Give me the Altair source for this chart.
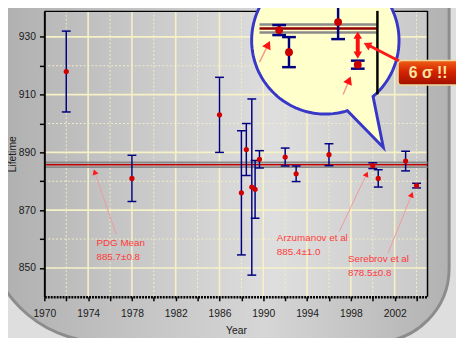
import altair as alt
import numpy as np
import pandas as pd

# ---------------- data ----------------
years = [1972, 1978, 1986, 1988.0, 1988.45, 1988.95, 1989.25, 1989.65, 1992, 1993, 1996, 2000, 2000.5, 2003, 2004]
lifetimes = [918.0, 881.0, 903.0, 876.0, 891.0, 878.0, 877.2, 887.6, 888.4, 882.6, 889.2, 885.4, 881.0, 887.0, 878.5]
errors = [14.0, 8.0, 13.0, 21.5, 9.0, 30.5, 10.0, 3.0, 3.1, 2.7, 3.8, 1.0, 3.0, 3.4, 0.8]

pdg_mean = 885.7
pdg_err = 0.8

x_ticks = list(range(1970, 2005, 2))
y_ticks = list(range(850, 931, 10))
major_grid_years = list(range(1974, 2003, 4))
minor_grid_years = list(range(1972, 2005, 4))
major_grid_vals = [850, 870, 890, 910, 930]
minor_grid_vals = [860, 880, 900, 920]

ann_names = ["PDG Mean", "Arzumanov et al", "Serebrov et al"]
ann_values = ["885.7±0.8", "885.4±1.0", "878.5±0.8"]
ann_text_x = [1974.76, 1991.24, 1997.73]
ann_text_y = [858.7, 860.4, 853.1]
ann_from_x = [1976.55, 1996.95, 2001.41]
ann_from_y = [861.75, 862.7, 855.2]
ann_to_x = [1974.6, 1999.44, 2003.56]
ann_to_y = [883.2, 882.5, 875.4]

badge_text = "6 σ !!"

# ---------------- layout helpers ----------------
W, H = 390, 291
X_DOM = [1970, 2005]
Y_DOM = [840, 939]
PX_YEAR = W / (X_DOM[1] - X_DOM[0])
PX_UNIT = H / (Y_DOM[1] - Y_DOM[0])
FONT = "Liberation Sans"

xs = alt.Scale(domain=X_DOM, nice=False, zero=False)
ys = alt.Scale(domain=Y_DOM, nice=False, zero=False)

xaxis = alt.Axis(values=x_ticks, format="d",
                 labelExpr="(datum.value - 1970) % 4 == 0 ? datum.label : ''",
                 title="Year", grid=False, domainColor="black", domainWidth=2.5,
                 domainDash=[2, 1], tickColor="black", tickWidth=1.5, tickSize=4,
                 labelFont=FONT, labelFontSize=10.5, labelColor="#1a1a1a",
                 labelPadding=8, labelFlush=False, labelOverlap=False,
                 titleFont=FONT, titleFontSize=10.5, titleFontWeight="normal",
                 titleColor="#1a1a1a", titlePadding=7, zindex=1)
yaxis = alt.Axis(values=y_ticks,
                 labelExpr="datum.value % 20 == 10 ? datum.label : ''",
                 title="Lifetime", grid=False, domainColor="black", domainWidth=2,
                 tickColor="black", tickWidth=1.5, tickSize=5,
                 labelFont=FONT, labelFontSize=10.5, labelColor="#1a1a1a",
                 labelPadding=4, labelFlush=False, labelOverlap=False,
                 titleFont=FONT, titleFontSize=10.5, titleFontWeight="normal",
                 titleColor="#1a1a1a", titlePadding=1, zindex=1)

# magnified inset inside the callout (maps data -> main data space)
IN_X0, IN_SX = 1991.449, 1.7949
IN_Y0, IN_SY = 932.876, 1.7351
IN_YEAR_MIN, IN_YEAR_MAX, IN_VAL_MIN = 1999.0, 2005.0, 872.56


def inx(y):
    return IN_X0 + IN_SX * (np.asarray(y, dtype=float) - 2000)


def iny(v):
    return IN_Y0 - IN_SY * (pdg_mean - np.asarray(v, dtype=float))


def head_angle(x0, y0, x1, y1, sx=1.0, sy=1.0):
    dx = (x1 - x0) * PX_YEAR * sx
    dy = -(y1 - y0) * PX_UNIT * sy
    return float(np.degrees(np.arctan2(dx, -dy)) % 360)


def X(f):
    return alt.X(f, type="quantitative", scale=xs, axis=xaxis)


def Y(f):
    return alt.Y(f, type="quantitative", scale=ys, axis=yaxis)


one = pd.DataFrame({"k": [0]})

# ---------------- frame & background ----------------
frame = alt.Chart(one).mark_rect(
    fill=alt.LinearGradient(gradient="linear", x1=0, x2=1, y1=0, y2=0, stops=[
        alt.GradientStop(color="#aeaeae", offset=0),
        alt.GradientStop(color="#d6d6d6", offset=0.6),
        alt.GradientStop(color="#b2b2b2", offset=1)]),
    stroke="#8c8c8c", strokeWidth=3,
    cornerRadiusBottomLeft=120, cornerRadiusBottomRight=75,
).encode(x=alt.value(-60), x2=alt.value(412), y=alt.value(-60), y2=alt.value(337))

plot_bg = alt.Chart(one).mark_rect(
    fill=alt.LinearGradient(gradient="linear", x1=0, x2=1, y1=0, y2=0, stops=[
        alt.GradientStop(color="#b9b9b9", offset=0),
        alt.GradientStop(color="#dedede", offset=0.6),
        alt.GradientStop(color="#c9c9c9", offset=1)]),
).encode(x=alt.value(0), x2=alt.value(W), y=alt.value(0), y2=alt.value(H))

grid_minor_v = alt.Chart(pd.DataFrame({"year": minor_grid_years})).mark_rule(
    color="#f3efc4", strokeWidth=1, strokeDash=[2, 2]).encode(x=X("year"))
grid_minor_h = alt.Chart(pd.DataFrame({"v": minor_grid_vals})).mark_rule(
    color="#f3efc4", strokeWidth=1, strokeDash=[2, 2]).encode(y=Y("v"))
grid_major_v = alt.Chart(pd.DataFrame({"year": major_grid_years})).mark_rule(
    color="#f6f2c6", strokeWidth=1.6).encode(x=X("year"))
grid_major_h = alt.Chart(pd.DataFrame({"v": major_grid_vals})).mark_rule(
    color="#f6f2c6", strokeWidth=1.6).encode(y=Y("v"))

border_top = alt.Chart(one).mark_rule(color="black", strokeWidth=1.5).encode(
    x=alt.value(0), x2=alt.value(W), y=alt.value(0.5))
border_right = alt.Chart(one).mark_rule(color="black", strokeWidth=1.5).encode(
    x=alt.value(W), y=alt.value(0), y2=alt.value(H))

# ---------------- PDG band ----------------
band = alt.Chart(pd.DataFrame({"v": [pdg_mean - pdg_err, pdg_mean + pdg_err]})).mark_rule(
    color="#8a8a8a", strokeWidth=2).encode(y=Y("v"))
mean_line = alt.Chart(pd.DataFrame({"v": [pdg_mean]})).mark_rule(
    color="#c00000", strokeWidth=1.5).encode(y=Y("v"))

# ---------------- measurements ----------------
df = pd.DataFrame({"year": years, "lifetime": lifetimes, "err": errors})
df["lo"] = df["lifetime"] - df["err"]
df["hi"] = df["lifetime"] + df["err"]
caps = pd.concat([pd.DataFrame({"year": df["year"], "v": df["lo"]}),
                  pd.DataFrame({"year": df["year"], "v": df["hi"]})])

bars = alt.Chart(df).mark_rule(color="#000080", strokeWidth=1.5).encode(
    x=X("year"), y=Y("lo"), y2="hi:Q")
bar_caps = alt.Chart(caps).mark_tick(color="#000080", orient="horizontal", size=9,
                                     thickness=1.5, opacity=1).encode(x=X("year"), y=Y("v"))
dots = alt.Chart(df).mark_circle(color="#d00000", size=28, opacity=1).encode(
    x=X("year"), y=Y("lifetime"))

# ---------------- annotations ----------------
ann = pd.DataFrame({"name": ann_names, "val": ann_values,
                    "tx": ann_text_x, "ty": ann_text_y,
                    "fx": ann_from_x, "fy": ann_from_y,
                    "ex": ann_to_x, "ey": ann_to_y})
ann["ty2"] = ann["ty"] - 5.0
ann["ang"] = [head_angle(a, b, c, d) for a, b, c, d in
              zip(ann.fx, ann.fy, ann.ex, ann.ey)]

ann_lines = alt.Chart(ann).mark_rule(color="#ee9a9a", strokeWidth=1).encode(
    x=X("fx"), y=Y("fy"), x2="ex:Q", y2="ey:Q")
ann_heads = alt.Chart(ann).mark_point(shape="triangle-up", filled=True, color="#ff1a1a",
                                      size=40, opacity=1).encode(
    x=X("ex"), y=Y("ey"), angle=alt.Angle("ang:Q", scale=None))
ann_t1 = alt.Chart(ann).mark_text(align="left", baseline="middle", color="#ff3b3b",
                                  fontSize=10, font=FONT).encode(
    x=X("tx"), y=Y("ty"), text="name:N")
ann_t2 = alt.Chart(ann).mark_text(align="left", baseline="middle", color="#ff3b3b",
                                  fontSize=10, font=FONT).encode(
    x=X("tx"), y=Y("ty2"), text="val:N")

# ---------------- callout bubble ----------------
a_ang, b_ang = np.deg2rad(72.6), np.deg2rad(49.6)
angs = np.linspace(b_ang, a_ang - 2 * np.pi, 181)
bubble_path = "M " + " L ".join(f"{np.cos(t):.4f} {np.sin(t):.4f}" for t in angs) + \
    " L 0.787 1.453 Z"
bubble = alt.Chart(one).mark_point(shape=bubble_path, size=22500, filled=True,
                                   fill="#ffffcc", stroke="#3838c8", strokeWidth=3,
                                   opacity=1, fillOpacity=1, strokeOpacity=1).encode(
    x=alt.value(286), y=alt.value(30))

# inset contents (magnified copy of the right end of the plot)
ins = df[df["year"] >= IN_YEAR_MIN].copy()
ins["ix"] = inx(ins["year"])
ins["iv"] = iny(ins["lifetime"])
ins["ilo"] = iny(ins["lo"])
ins["ihi"] = iny(ins["hi"])
ins_caps = pd.concat([pd.DataFrame({"ix": ins["ix"], "v": ins["ilo"]}),
                      pd.DataFrame({"ix": ins["ix"], "v": ins["ihi"]})])

in_band = pd.DataFrame({"x0": [float(inx(IN_YEAR_MIN))] * 2, "x1": [float(inx(IN_YEAR_MAX))] * 2,
                        "v": [float(iny(pdg_mean - pdg_err)), float(iny(pdg_mean + pdg_err))]})
in_mean = pd.DataFrame({"x0": [float(inx(IN_YEAR_MIN))], "x1": [float(inx(IN_YEAR_MAX))],
                        "v": [float(iny(pdg_mean))]})
in_band_l = alt.Chart(in_band).mark_rule(color="#8a8a8a", strokeWidth=2.5).encode(
    x=X("x0"), x2="x1:Q", y=Y("v"))
in_mean_l = alt.Chart(in_mean).mark_rule(color="#900000", strokeWidth=2.5).encode(
    x=X("x0"), x2="x1:Q", y=Y("v"))
in_border = alt.Chart(pd.DataFrame({"x": [float(inx(IN_YEAR_MAX))],
                                    "y0": [float(iny(IN_VAL_MIN))], "y1": [Y_DOM[1]]})).mark_rule(
    color="black", strokeWidth=2.5).encode(x=X("x"), y=Y("y0"), y2="y1:Q")
in_bars = alt.Chart(ins).mark_rule(color="#000080", strokeWidth=2.5).encode(
    x=X("ix"), y=Y("ilo"), y2="ihi:Q")
in_caps = alt.Chart(ins_caps).mark_tick(color="#000080", orient="horizontal", size=14,
                                        thickness=2.5, opacity=1).encode(x=X("ix"), y=Y("v"))
in_dots = alt.Chart(ins).mark_circle(color="#c80000", size=64, opacity=1).encode(
    x=X("ix"), y=Y("iv"))

# inset copies of the annotation arrows, clipped to the inset window
rows = []
for fx, fy, ex, ey in zip(ann_from_x, ann_from_y, ann_to_x, ann_to_y):
    if ex < IN_YEAR_MIN:
        continue
    t_year = (IN_YEAR_MIN - fx) / (ex - fx) if fx < IN_YEAR_MIN else 0.0
    t_val = (IN_VAL_MIN - fy) / (ey - fy) if fy < IN_VAL_MIN else 0.0
    t0 = max(t_year, t_val)
    sx, sy = fx + t0 * (ex - fx), fy + t0 * (ey - fy)
    rows.append({"fx": float(inx(sx)), "fy": float(iny(sy)),
                 "ex": float(inx(ex)), "ey": float(iny(ey)),
                 "ang": head_angle(fx, fy, ex, ey, IN_SX, IN_SY)})
in_ann = pd.DataFrame(rows)
in_ann_lines = alt.Chart(in_ann).mark_rule(color="#f49a8a", strokeWidth=1.5).encode(
    x=X("fx"), y=Y("fy"), x2="ex:Q", y2="ey:Q")
in_ann_heads = alt.Chart(in_ann).mark_point(shape="triangle-up", filled=True, color="#ff1010",
                                            size=90, opacity=1).encode(
    x=X("ex"), y=Y("ey"), angle=alt.Angle("ang:Q", scale=None))

# 6 sigma double arrow between the mean band and Serebrov
dbl = pd.DataFrame({"x": [float(inx(2004))] * 2,
                    "v": [float(iny(884.39)), float(iny(880.41))],
                    "ang": [0.0, 180.0]})
dbl_line = alt.Chart(dbl).mark_line(color="#ff1010", strokeWidth=4).encode(
    x=X("x"), y=Y("v"))
dbl_heads = alt.Chart(dbl).mark_point(shape="triangle-up", filled=True, color="#ff1010",
                                      size=75, opacity=1).encode(
    x=X("x"), y=Y("v"), angle=alt.Angle("ang:Q", scale=None))

# ---------------- badge ----------------
badge_arrow = alt.Chart(one).mark_rule(color="#ff1a1a", strokeWidth=3).encode(
    x=alt.value(361), y=alt.value(51), x2=alt.value(330), y2=alt.value(35))
badge_head = alt.Chart(one).mark_point(shape="triangle-up", filled=True, color="#ff1a1a",
                                       size=80, opacity=1, angle=297).encode(
    x=alt.value(328.5), y=alt.value(34.5))
badge = alt.Chart(one).mark_rect(
    fill=alt.LinearGradient(gradient="linear", x1=0, x2=0, y1=0, y2=1, stops=[
        alt.GradientStop(color="#f06018", offset=0),
        alt.GradientStop(color="#d42400", offset=0.45),
        alt.GradientStop(color="#a01000", offset=1)]),
    stroke="#f0d89c", strokeWidth=1.5, cornerRadius=4,
).encode(x=alt.value(360), x2=alt.value(450), y=alt.value(50.5), y2=alt.value(75.5))
badge_t = alt.Chart(one).mark_text(text=badge_text, align="left", baseline="alphabetic",
                                   font=FONT, fontWeight="bold", fontSize=16,
                                   color="#ffe6a0").encode(
    x=alt.value(371), y=alt.value(68.5))

chart = alt.layer(
    frame, plot_bg, grid_minor_v, grid_minor_h, grid_major_v, grid_major_h,
    border_top, border_right, band, mean_line,
    bars, bar_caps, dots,
    ann_lines, ann_heads, ann_t1, ann_t2,
    bubble, in_band_l, in_mean_l, in_border, in_bars, in_caps, in_dots,
    in_ann_lines, in_ann_heads, dbl_line, dbl_heads,
    badge_arrow, badge_head, badge, badge_t,
).properties(
    width=W, height=H,
    autosize=alt.AutoSizeParams(type="none"),
    padding={"left": 37, "top": 0, "right": 29, "bottom": 39},
    background="#dedede",
).configure_view(stroke=None)

chart.save("out.html", embed_options={"renderer": "svg", "actions": False})
